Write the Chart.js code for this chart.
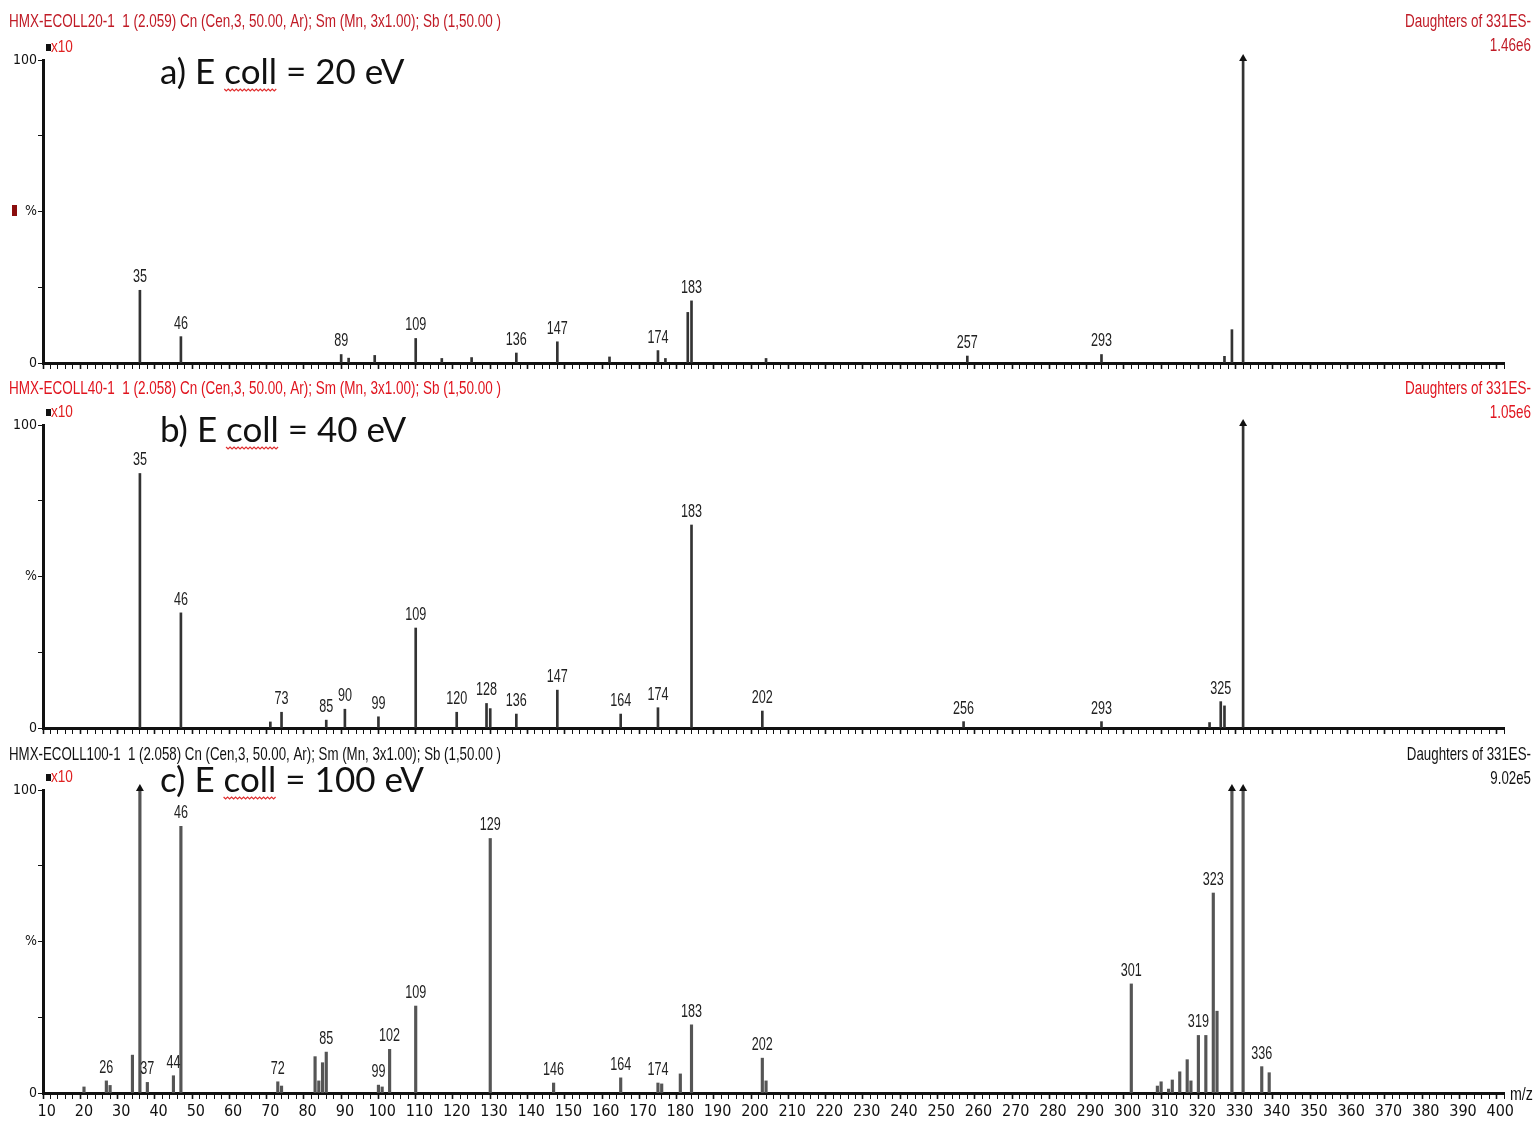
<!DOCTYPE html>
<html>
<head>
<meta charset="utf-8">
<script src="https://cdn.jsdelivr.net/npm/chart.js@4/dist/chart.umd.min.js"></script>
<style>
  body { margin: 0; background: #fff; width: 1533px; height: 1126px; overflow: hidden; position: relative; }
  canvas { position: absolute; left: 0; }
</style>
</head>
<body>
<canvas id="specA" width="1533" height="375" style="top:0px"></canvas>
<canvas id="specB" width="1533" height="375" style="top:365px"></canvas>
<canvas id="specC" width="1533" height="396" style="top:730px"></canvas>
<script>
// m/z axis
const mzMin = 10, mzMax = 400;

// a) E coll = 20 eV
const aMz  = [35, 46, 89, 91, 98, 109, 116, 124, 136, 147, 161, 174, 176, 182, 183, 203, 257, 293, 326, 328, 331];
const aInt = [24, 8.7, 2.8, 1.6, 2.5, 8.1, 1.5, 1.8, 3.3, 7.0, 2.0, 4.1, 1.5, 16.7, 20.5, 1.5, 2.3, 2.8, 2.2, 11, 100];
const aLabels = [35, 46, 89, 109, 136, 147, 174, 183, 257, 293];

// b) E coll = 40 eV
const bMz  = [35, 46, 70, 73, 85, 90, 99, 109, 120, 128, 129, 136, 147, 164, 174, 183, 202, 256, 293, 322, 325, 326, 331];
const bInt = [84, 38, 2.0, 5.2, 2.6, 6.2, 3.7, 33, 5.2, 8.1, 6.4, 4.6, 12.5, 4.6, 6.7, 67, 5.6, 2.1, 2.1, 1.8, 8.7, 7.3, 100];
const bLabels = [35, 46, 73, 85, 90, 99, 109, 120, 128, 136, 147, 164, 174, 183, 202, 256, 293, 325];

// c) E coll = 100 eV
const cMz  = [20, 26, 27, 33, 35, 37, 44, 46, 72, 73, 82, 83, 84, 85, 99, 100, 102, 109, 129, 146, 164, 174, 175, 180, 183, 202, 203,
              301, 308, 309, 311, 312, 314, 316, 317, 319, 321, 323, 324, 328, 331, 336, 338];
const cInt = [2, 4, 2.5, 12.5, 100, 3.5, 5.7, 88, 3.7, 2.3, 12, 4, 10, 13.5, 2.6, 2, 14.4, 28.7, 84, 3.3, 5, 3.3, 3, 6.3, 22.5, 11.5, 4,
              36, 2.3, 3.7, 1.3, 4.3, 7, 11, 4, 19, 19, 66, 27, 100, 100, 8.7, 6.7];
const cLabels = [26, 37, 44, 46, 72, 85, 99, 102, 109, 129, 146, 164, 174, 183, 202, 301, 319, 323, 336];

const yTicks = [0, 25, 50, 75, 100];

const narrow = "'DejaVu Sans Condensed', 'Liberation Sans', Arial, sans-serif";
const arial = "'Liberation Sans', Arial, sans-serif";

// squeezed text, looks like the narrow font of the instrument software
function squeezed(c, txt, x, y, align, sx) {
    c.save();
    c.translate(x, y);
    c.scale(sx, 1);
    c.textAlign = align;
    c.fillText(txt, 0, 0);
    c.restore();
}

function drawSpectrum(id, mz, inten, labels, info) {
    const ctx = document.getElementById(id).getContext('2d');

    const decor = {
        id: 'decor',
        afterDraw(chart) {
            const c = chart.ctx;
            const area = chart.chartArea;
            c.save();
            // header line
            c.font = '19px ' + arial;
            c.fillStyle = info.headColor;
            c.textBaseline = 'middle';
            const hs = 492 / c.measureText(info.head).width;
            squeezed(c, info.head, 9, info.headY, 'left', hs);
            squeezed(c, 'Daughters of 331ES-', 1531, info.headY, 'right', hs);
            squeezed(c, info.scale, 1531, info.headY + 24, 'right', hs);
            // x10 marker
            c.fillStyle = '#111';
            c.fillRect(area.left + 3, area.top - 16, 5, 7);
            c.font = '17px ' + arial;
            c.fillStyle = '#e02020';
            squeezed(c, 'x10', area.left + 8, area.top - 13, 'left', 0.8);
            // panel title with spell-check squiggle under "coll"
            c.font = '35px Lato, "Open Sans", sans-serif';
            c.fillStyle = '#111';
            c.textBaseline = 'alphabetic';
            c.textAlign = 'left';
            const pre = info.tag + ') E ';
            const x0 = 160;
            c.fillText(pre + 'coll' + info.rest, x0, info.titleY);
            const sx = x0 + c.measureText(pre).width;
            const sw = c.measureText('coll').width;
            c.strokeStyle = '#e03030';
            c.lineWidth = 1.2;
            c.beginPath();
            for (let k = 0; k <= sw; k += 2) {
                const yy = info.titleY + 5 + ((k / 2) % 2 ? 2 : 0);
                if (k === 0) c.moveTo(sx + k, yy); else c.lineTo(sx + k, yy);
            }
            c.stroke();
            // peak labels and clipped-peak arrows
            const meta = chart.getDatasetMeta(0);
            c.font = '18px ' + arial;
            c.textBaseline = 'bottom';
            meta.data.forEach((bar, i) => {
                c.fillStyle = '#222';
                if (labels.includes(mz[i])) squeezed(c, String(mz[i]), bar.x, bar.y - 4, 'center', 0.7);
                if (inten[i] >= 100) {
                    c.beginPath();
                    c.moveTo(bar.x, bar.y - 6);
                    c.lineTo(bar.x - 4, bar.y + 1);
                    c.lineTo(bar.x + 4, bar.y + 1);
                    c.closePath();
                    c.fillStyle = '#111';
                    c.fill();
                }
            });
            if (info.showX) {
                c.font = '19px ' + arial;
                c.textBaseline = 'middle';
                c.fillStyle = '#111';
                squeezed(c, 'm/z', area.right + 6, area.bottom + 2, 'left', 0.75);
            }
            if (info.mark) {
                c.fillStyle = info.mark;
                c.fillRect(12, area.top + 145, 5, 11);
            }
            c.restore();
        }
    };

    return new Chart(ctx, {
        type: 'bar',
        data: {
            datasets: [{
                data: mz.map((m, i) => ({ x: m, y: inten[i] })),
                backgroundColor: info.barColor,
                barThickness: info.barWidth,
                grouped: false
            }]
        },
        options: {
            responsive: false,
            animation: false,
            devicePixelRatio: 1,
            layout: { padding: { top: 60, right: 29, left: 0, bottom: 0 } },
            plugins: { legend: { display: false }, tooltip: { enabled: false } },
            scales: {
                x: {
                    type: 'linear',
                    min: mzMin,
                    max: mzMax,
                    afterFit: s => { s.height = info.showX ? 33 : 12; },
                    border: { display: true, width: 3, color: '#111' },
                    grid: {
                        drawOnChartArea: false,
                        tickLength: 6,
                        color: '#111',
                        tickWidth: c => (c.tick && c.tick.value % 10 === 0 ? 1.6 : 1)
                    },
                    ticks: {
                        stepSize: 2,
                        autoSkip: false,
                        maxRotation: 0,
                        padding: 3,
                        color: '#111',
                        font: { family: narrow, size: 16 },
                        callback: v => (info.showX && v % 10 === 0 ? String(v) : '')
                    }
                },
                y: {
                    min: 0,
                    max: 100,
                    afterFit: s => { s.width = 43; },
                    afterBuildTicks: s => { s.ticks = yTicks.map(v => ({ value: v })); },
                    border: { display: true, width: 3, color: '#111' },
                    grid: { drawOnChartArea: false, tickLength: 5, color: '#111' },
                    ticks: {
                        padding: 1,
                        color: '#111',
                        font: { family: narrow, size: 14 },
                        callback: v => (v === 100 ? '100' : v === 50 ? '%' : v === 0 ? '0' : '')
                    }
                }
            }
        },
        plugins: [decor]
    });
}

drawSpectrum('specA', aMz, aInt, aLabels, {
    head: 'HMX-ECOLL20-1  1 (2.059) Cn (Cen,3, 50.00, Ar); Sm (Mn, 3x1.00); Sb (1,50.00 )',
    headColor: '#c01b26', headY: 22, scale: '1.46e6',
    tag: 'a', rest: ' = 20 eV', titleY: 84,
    barColor: '#333', barWidth: 2, showX: false, mark: '#8b0d0d'
});
drawSpectrum('specB', bMz, bInt, bLabels, {
    head: 'HMX-ECOLL40-1  1 (2.058) Cn (Cen,3, 50.00, Ar); Sm (Mn, 3x1.00); Sb (1,50.00 )',
    headColor: '#e0141e', headY: 24, scale: '1.05e6',
    tag: 'b', rest: ' = 40 eV', titleY: 77,
    barColor: '#333', barWidth: 2, showX: false, mark: null
});
drawSpectrum('specC', cMz, cInt, cLabels, {
    head: 'HMX-ECOLL100-1  1 (2.058) Cn (Cen,3, 50.00, Ar); Sm (Mn, 3x1.00); Sb (1,50.00 )',
    headColor: '#111', headY: 25, scale: '9.02e5',
    tag: 'c', rest: ' = 100 eV', titleY: 62,
    barColor: '#555', barWidth: 2.5, showX: true, mark: null
});
</script>
</body>
</html>
